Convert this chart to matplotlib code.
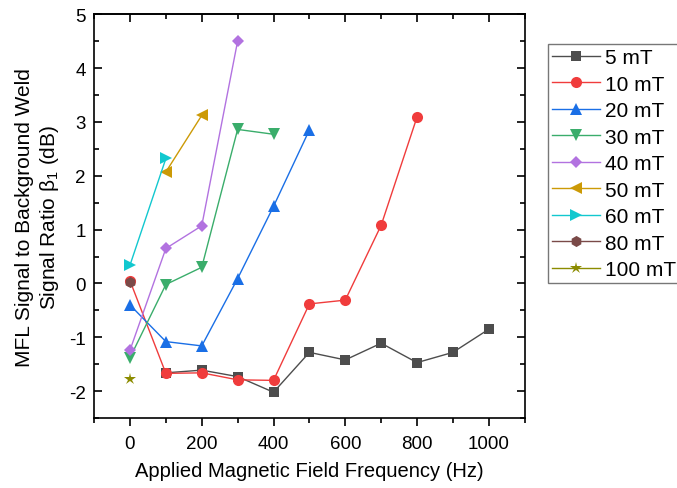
import matplotlib.pyplot as plt
import numpy as np

plt.rcParams['font.family'] = ['Liberation Sans', 'DejaVu Sans']
plt.rcParams['axes.unicode_minus'] = False

# datos
freq_5 = [100, 200, 300, 400, 500, 600, 700, 800, 900, 1000]
val_5 = [-1.66, -1.61, -1.73, -2.02, -1.28, -1.42, -1.11, -1.47, -1.28, -0.85]

freq_10 = [0, 100, 200, 300, 400, 500, 600, 700, 800]
val_10 = [0.05, -1.67, -1.66, -1.79, -1.80, -0.38, -0.31, 1.08, 3.09]

freq_20 = [0, 100, 200, 300, 400, 500]
val_20 = [-0.40, -1.08, -1.16, 0.09, 1.43, 2.85]

freq_30 = [0, 100, 200, 300, 400]
val_30 = [-1.38, -0.02, 0.30, 2.86, 2.77]

freq_40 = [0, 100, 200, 300]
val_40 = [-1.24, 0.65, 1.07, 4.50]

freq_50 = [100, 200]
val_50 = [2.07, 3.12]

freq_60 = [0, 100]
val_60 = [0.34, 2.32]

freq_80 = [0]
val_80 = [0.03]

freq_100 = [0]
val_100 = [-1.77]

series = [
    (freq_5, val_5, '5 mT', '#4d4d4d', 's'),
    (freq_10, val_10, '10 mT', '#f03c3c', 'o'),
    (freq_20, val_20, '20 mT', '#1a6fe6', '^'),
    (freq_30, val_30, '30 mT', '#3aad6b', 'v'),
    (freq_40, val_40, '40 mT', '#b272e0', 'D'),
    (freq_50, val_50, '50 mT', '#cc9a06', '<'),
    (freq_60, val_60, '60 mT', '#12c8cf', '>'),
    (freq_80, val_80, '80 mT', '#7a4a48', 'h'),
    (freq_100, val_100, '100 mT', '#8c8c00', '*'),
]
tamanos = {'s': 7, 'o': 8, '^': 8, 'v': 8, 'D': 6.5, '<': 8, '>': 8, 'h': 8, '*': 9}

fig = plt.figure(figsize=(6.77, 4.89), dpi=100)
ax = fig.add_axes([0.139, 0.143, 0.636, 0.826])

for x, y, lab, col, mk in series:
    ax.plot(x, y, '-', color=col, marker=mk, markersize=tamanos[mk], linewidth=1.0,
            markeredgewidth=0, label=lab)

ax.set_xlim(-100, 1100)
ax.set_ylim(-2.5, 5)
ax.set_xticks(np.arange(0, 1001, 200))
ax.set_xticks(np.arange(-100, 1101, 100), minor=True)
ax.set_yticks(np.arange(-2, 6, 1))
ax.set_yticks(np.arange(-2.5, 5.01, 0.5), minor=True)

ax.tick_params(axis='x', which='both', direction='out', labelsize=13.5, pad=6)
ax.tick_params(axis='y', which='both', direction='in', right=True, labelsize=13.5, pad=6)
ax.tick_params(which='major', length=6, width=1.2)
ax.tick_params(which='minor', length=3.5, width=1.2)

# ticks superiores hacia dentro
top = ax.secondary_xaxis('top')
top.set_xticks(np.arange(0, 1001, 200))
top.set_xticks(np.arange(-100, 1101, 100), minor=True)
top.tick_params(which='both', direction='in', labeltop=False, width=1.2)
top.tick_params(which='major', length=6)
top.tick_params(which='minor', length=3.5)
top.spines['top'].set_linewidth(1.2)

for s in ax.spines.values():
    s.set_linewidth(1.2)

ax.set_xlabel('Applied Magnetic Field Frequency (Hz)', fontsize=14.5, labelpad=7)
ax.set_ylabel('MFL Signal to Background Weld\nSignal Ratio $\\mathregular{\\beta_1}$ (dB)',
              fontsize=15, labelpad=6)

leg = fig.legend(loc='upper left', bbox_to_anchor=(0.809, 0.908), fontsize=15,
                 frameon=True, fancybox=False, edgecolor='#555555',
                 handlelength=2.3, handletextpad=0.25, borderpad=0.2,
                 labelspacing=0.36, borderaxespad=0)
leg.get_frame().set_linewidth(1.0)

plt.savefig('out.png', dpi=100)
